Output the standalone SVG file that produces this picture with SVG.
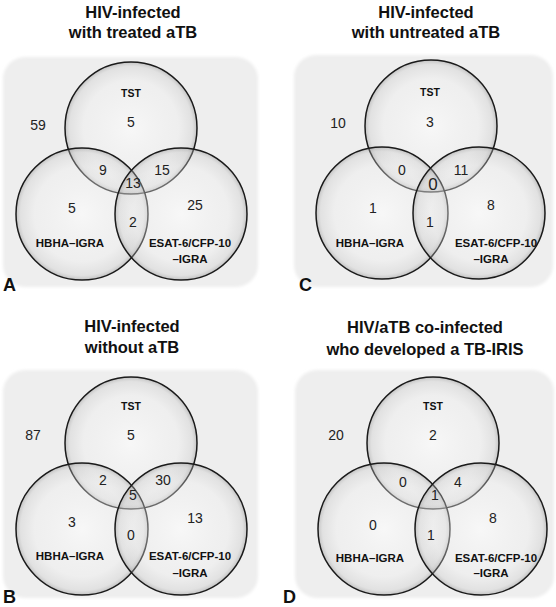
<svg xmlns="http://www.w3.org/2000/svg" width="556" height="607" viewBox="0 0 556 607">
<defs>
<radialGradient id="glass" cx="0.5" cy="0.5" r="0.5">
<stop offset="0" stop-color="#ffffff" stop-opacity="0.55"/>
<stop offset="0.72" stop-color="#f0f0f0" stop-opacity="0.3"/>
<stop offset="0.93" stop-color="#c4c4c4" stop-opacity="0.3"/>
<stop offset="1" stop-color="#8c8c8c" stop-opacity="0.45"/>
</radialGradient>
<filter id="soft" x="-5%" y="-5%" width="110%" height="110%"><feGaussianBlur stdDeviation="1.5"/></filter>
</defs>
<style>
.bg{fill:#eeeeee;}
.c{fill:url(#glass);stroke:#1a1a1a;stroke-width:1.5;}
.t{font-family:"Liberation Sans",Arial,sans-serif;font-weight:bold;font-size:16.5px;fill:#111;text-anchor:middle;}
.n{font-family:"Liberation Sans",Arial,sans-serif;font-size:14px;fill:#222;text-anchor:middle;}
.n2{font-family:"Liberation Sans",Arial,sans-serif;font-size:17px;fill:#222;text-anchor:middle;}
.l{font-family:"Liberation Sans",Arial,sans-serif;font-weight:bold;font-size:11.5px;fill:#111;text-anchor:middle;}
.s{font-family:"Liberation Sans",Arial,sans-serif;font-weight:bold;font-size:10.5px;fill:#111;text-anchor:middle;}
.p{font-family:"Liberation Sans",Arial,sans-serif;font-weight:bold;font-size:18px;fill:#111;}
</style>
<rect width="556" height="607" fill="#ffffff"/>

<g id="panelA">
<text class="t" x="133" y="18">HIV-infected</text>
<text class="t" x="133" y="38">with treated aTB</text>
<rect class="bg" x="3" y="57" width="255" height="230" rx="22" filter="url(#soft)"/>
<g id="A-TST"><circle class="c" cx="131" cy="128" r="66"/></g>
<g id="A-HBHA"><circle class="c" cx="82" cy="214" r="66"/></g>
<g id="A-ESAT"><circle class="c" cx="181" cy="214" r="66"/></g>
<text class="s" x="131" y="97">TST</text>
<text class="n" x="131" y="127">5</text>
<text class="n" x="38" y="130">59</text>
<text class="n" x="103" y="175">9</text>
<text class="n" x="162" y="175">15</text>
<text class="n" x="133" y="188">13</text>
<text class="n" x="72" y="213">5</text>
<text class="n" x="133" y="227">2</text>
<text class="n" x="195" y="210">25</text>
<text class="l" x="70" y="247">HBHA–IGRA</text>
<text class="l" x="190" y="247">ESAT-6/CFP-10</text>
<text class="l" x="190" y="263">–IGRA</text>
<text class="p" x="3" y="291">A</text>
</g>

<g id="panelC">
<text class="t" x="426" y="18">HIV-infected</text>
<text class="t" x="426" y="38">with untreated aTB</text>
<rect class="bg" x="294" y="55" width="259" height="232" rx="22" filter="url(#soft)"/>
<g id="C-TST"><circle class="c" cx="431" cy="126" r="66"/></g>
<g id="C-HBHA"><circle class="c" cx="382" cy="213" r="66"/></g>
<g id="C-ESAT"><circle class="c" cx="479" cy="213" r="66"/></g>
<text class="s" x="430" y="96">TST</text>
<text class="n" x="430" y="127">3</text>
<text class="n" x="338" y="128">10</text>
<text class="n" x="402" y="175">0</text>
<text class="n" x="461" y="175">11</text>
<text class="n2" x="433" y="190">0</text>
<text class="n" x="373" y="213">1</text>
<text class="n" x="430" y="227">1</text>
<text class="n" x="491" y="210">8</text>
<text class="l" x="370" y="247">HBHA–IGRA</text>
<text class="l" x="496" y="247">ESAT-6/CFP-10</text>
<text class="l" x="491" y="263">–IGRA</text>
<text class="p" x="299" y="291">C</text>
</g>

<g id="panelB">
<text class="t" x="132" y="332">HIV-infected</text>
<text class="t" x="132" y="353">without aTB</text>
<rect class="bg" x="3" y="370" width="255" height="228" rx="22" filter="url(#soft)"/>
<g id="B-TST"><circle class="c" cx="131" cy="443" r="66"/></g>
<g id="B-HBHA"><circle class="c" cx="82" cy="529" r="66"/></g>
<g id="B-ESAT"><circle class="c" cx="181" cy="529" r="66"/></g>
<text class="s" x="131" y="410">TST</text>
<text class="n" x="131" y="440">5</text>
<text class="n" x="33" y="440">87</text>
<text class="n" x="103" y="485">2</text>
<text class="n" x="163" y="485">30</text>
<text class="n" x="133" y="500">5</text>
<text class="n" x="72" y="527">3</text>
<text class="n" x="131" y="540">0</text>
<text class="n" x="195" y="523">13</text>
<text class="l" x="70" y="560">HBHA–IGRA</text>
<text class="l" x="190" y="560">ESAT-6/CFP-10</text>
<text class="l" x="190" y="577">–IGRA</text>
<text class="p" x="3" y="603">B</text>
</g>

<g id="panelD">
<text class="t" x="425" y="333">HIV/aTB co-infected</text>
<text class="t" x="425" y="355">who developed a TB-IRIS</text>
<rect class="bg" x="295" y="370" width="259" height="228" rx="22" filter="url(#soft)"/>
<g id="D-TST"><circle class="c" cx="433" cy="443" r="66"/></g>
<g id="D-HBHA"><circle class="c" cx="384" cy="529" r="66"/></g>
<g id="D-ESAT"><circle class="c" cx="481" cy="529" r="66"/></g>
<text class="s" x="433" y="410">TST</text>
<text class="n" x="433" y="440">2</text>
<text class="n" x="336" y="440">20</text>
<text class="n" x="403" y="487">0</text>
<text class="n" x="458" y="487">4</text>
<text class="n" x="435" y="500">1</text>
<text class="n" x="373" y="530">0</text>
<text class="n" x="431" y="540">1</text>
<text class="n" x="493" y="523">8</text>
<text class="l" x="370" y="562">HBHA–IGRA</text>
<text class="l" x="496" y="562">ESAT-6/CFP-10</text>
<text class="l" x="491" y="577">–IGRA</text>
<text class="p" x="283" y="603">D</text>
</g>
</svg>
